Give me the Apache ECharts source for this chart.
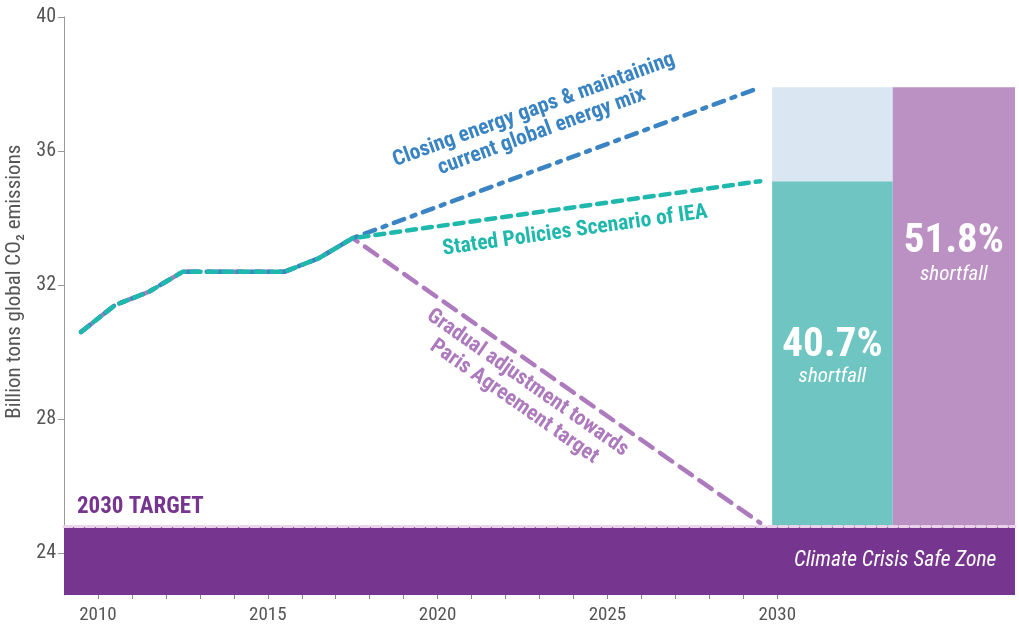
<!DOCTYPE html>
<html><head><meta charset="utf-8">
<script src="https://cdn.jsdelivr.net/npm/echarts@6/dist/echarts.min.js"></script>
<style>html,body{margin:0;padding:0;background:#fff}#c{width:1019px;height:630px}</style>
</head><body><div id="c"></div>
<script>
// ---- data ----
const historyYears = [2009.5, 2010.5, 2011.5, 2012.5, 2013.5, 2014.5, 2015.5, 2016.5, 2017.5];
const historyValues = [30.6, 31.4, 31.8, 32.4, 32.4, 32.4, 32.4, 32.8, 33.4];
const projectionEndYear = 2029.5;
const closingGapsEnd = 37.9;
const statedPoliciesEnd = 35.1;
const parisEnd = 24.9;
const target2030 = 24.8;
const yTickValues = [24, 28, 32, 36, 40];
const xLabelYears = [2010, 2015, 2020, 2025, 2030];
const xTickYears = [2010,2011,2012,2013,2014,2015,2016,2017,2018,2019,2020,2021,2022,2023,2024,2025,2026,2027,2028,2029,2030];
const shortfallColumns = [[2029.85, 2033.4], [2033.4, 2037]];
const shortfallLabels = ['40.7%', '51.8%'];

// ---- styles ----
const FONT = "'Roboto Condensed', Roboto, sans-serif";
const C_BLUE = '#3a84c3', C_TEAL = '#1fb8ad', C_PURPLE = '#ad7bbd';
const C_BAND = '#76358f';
const Y_MIN = 22.75, Y_MAX = 40, X_MIN = 2009, X_MAX = 2037;

function scenario(endValue) {
  const d = historyYears.map((y, i) => [y, historyValues[i]]);
  d.push([projectionEndYear, endValue]);
  return d;
}

const barData = [
  [shortfallColumns[0][0], shortfallColumns[0][1], target2030, statedPoliciesEnd],
  [shortfallColumns[0][0], shortfallColumns[0][1], statedPoliciesEnd, closingGapsEnd],
  [shortfallColumns[1][0], shortfallColumns[1][1], target2030, closingGapsEnd]
];
const barColors = ['#6fc5c2', '#dae7f2', '#bb91c4'];

const chart = echarts.init(document.getElementById('c'));
chart.setOption({
  animation: false,
  grid: { left: 64, right: 4, top: 17, bottom: 35 },
  xAxis: {
    type: 'value', min: X_MIN, max: X_MAX,
    splitLine: { show: false },
    axisLine: { show: false },
    axisTick: { show: true, length: 4, customValues: xTickYears, lineStyle: { color: '#888' } },
    axisLabel: { customValues: xLabelYears, formatter: v => String(v), color: '#555', fontSize: 19, fontFamily: FONT, margin: 11 }
  },
  yAxis: {
    type: 'value', min: Y_MIN, max: Y_MAX,
    splitLine: { show: false },
    axisLine: { show: true, lineStyle: { color: '#999' } },
    axisTick: { show: true, length: 6, customValues: yTickValues, lineStyle: { color: '#999' } },
    axisLabel: { customValues: yTickValues, color: '#555', fontSize: 20, fontFamily: FONT, margin: 8 }
  },
  series: [
    {
      type: 'custom', z: 1,
      encode: { x: [0, 1], y: [2, 3] },
      data: barData,
      renderItem(params, api) {
        const p0 = api.coord([api.value(0), api.value(3)]);
        const p1 = api.coord([api.value(1), api.value(2)]);
        return { type: 'rect', shape: { x: p0[0], y: p0[1], width: p1[0] - p0[0], height: p1[1] - p0[1] },
                 style: { fill: barColors[params.dataIndex] } };
      },
      markArea: {
        silent: true,
        itemStyle: { color: C_BAND },
        data: [[{ xAxis: X_MIN, yAxis: Y_MIN }, { xAxis: X_MAX, yAxis: target2030 }]]
      }
    },
    {
      type: 'line', z: 3, symbol: 'none', data: scenario(parisEnd),
      lineStyle: { color: C_PURPLE, width: 4.5, type: [15, 9], cap: 'round' }
    },
    {
      type: 'line', z: 4, symbol: 'none', data: scenario(closingGapsEnd),
      lineStyle: { color: C_BLUE, width: 4.5, type: [11, 8, 4, 8], cap: 'round' }
    },
    {
      type: 'line', z: 5, symbol: 'none', data: scenario(statedPoliciesEnd),
      lineStyle: { color: C_TEAL, width: 4.5, type: [9, 7], cap: 'round' },
      markLine: {
        silent: true, symbol: 'none', z: 10,
        label: { show: false },
        lineStyle: { color: '#e9d2ea', width: 3, type: [8, 3], cap: 'round' },
        data: [[{ coord: [X_MIN, target2030] }, { coord: [X_MAX, target2030] }]]
      }
    }
  ]
});

function px(x, y) { return chart.convertToPixel({ gridIndex: 0 }, [x, y]); }
function txt(pos, text, opts) {
  return Object.assign({
    type: 'text', x: pos[0], y: pos[1], z: 100,
    style: Object.assign({ text, fontFamily: FONT, align: 'center', verticalAlign: 'middle' }, opts.style)
  }, opts.el || {});
}
const deg = Math.PI / 180;
const midA = (shortfallColumns[0][0] + shortfallColumns[0][1]) / 2;
const midB = (shortfallColumns[1][0] + shortfallColumns[1][1]) / 2;
chart.setOption({
  graphic: [
    txt(px(2022.95, 36.9), 'Closing energy gaps & maintaining\ncurrent global energy mix',
      { style: { fill: C_BLUE, fontSize: 21.5, fontWeight: 'bold', lineHeight: 23 }, el: { rotation: 20 * deg } }),
    txt(px(2024.05, 33.62), 'Stated Policies Scenario of IEA',
      { style: { fill: C_TEAL, fontSize: 21.5, fontWeight: 'bold' }, el: { rotation: 8 * deg } }),
    txt(px(2022.45, 28.8), 'Gradual adjustment towards\nParis Agreement target',
      { style: { fill: C_PURPLE, fontSize: 21.5, fontWeight: 'bold', lineHeight: 23 }, el: { rotation: -35 * deg } }),
    txt(px(2009.38, 25.38), '2030 TARGET',
      { style: { fill: C_BAND, fontSize: 23, fontWeight: 'bold', align: 'left' } }),
    txt(px(2036.45, 23.78), 'Climate Crisis Safe Zone',
      { style: { fill: '#fff', fontSize: 21.5, fontStyle: 'italic', align: 'right' } }),
    txt(px(midA, 30.2), shortfallLabels[0], { style: { fill: '#fff', fontSize: 41, fontWeight: 'bold' } }),
    txt(px(midA, 29.25), 'shortfall', { style: { fill: '#fff', fontSize: 21, fontStyle: 'italic' } }),
    txt(px(midB, 33.3), shortfallLabels[1], { style: { fill: '#fff', fontSize: 41, fontWeight: 'bold' } }),
    txt(px(midB, 32.3), 'shortfall', { style: { fill: '#fff', fontSize: 21, fontStyle: 'italic' } }),
    txt([15, px(2009, 32.1)[1]], 'Billion tons global CO\u2082 emissions',
      { style: { fill: '#555', fontSize: 21 }, el: { rotation: 90 * deg } })
  ]
});
</script></body></html>
